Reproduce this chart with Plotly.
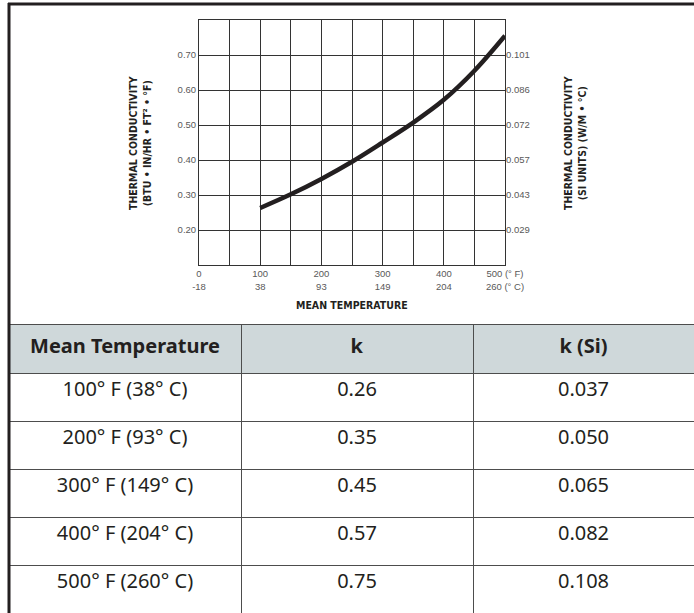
import plotly.graph_objects as go

# ---- data ----
# table values
temps_f = [100, 200, 300, 400, 500]
temps_c = [38, 93, 149, 204, 260]
k_values = [0.26, 0.35, 0.45, 0.57, 0.75]
k_si_values = [0.037, 0.050, 0.065, 0.082, 0.108]

# curve every 50 °F
curve_f = [100, 150, 200, 250, 300, 350, 400, 450, 500]
curve_k = [0.263, 0.302, 0.346, 0.395, 0.450, 0.507, 0.572, 0.655, 0.755]

x_tick_f = [0, 50, 100, 150, 200, 250, 300, 350, 400, 450, 500]
x_tick_labels = ["0<br>-18", "", "100<br>38", "", "200<br>93", "", "300<br>149", "",
                 "400<br>204", "", "500 (° F)<br>260 (° C)"]
y_ticks = [0.10, 0.20, 0.30, 0.40, 0.50, 0.60, 0.70, 0.80]
y_tick_labels = ["", "0.20", "0.30", "0.40", "0.50", "0.60", "0.70", ""]
y2_tick_labels = ["", "0.029", "0.043", "0.057", "0.072", "0.086", "0.101", ""]

W, H = 694, 613
DARK = "#231f20"
GRID = "#333333"

fig = go.Figure()

fig.add_trace(go.Scatter(
    x=curve_f, y=curve_k, mode="lines",
    line=dict(color=DARK, width=4.5, shape="spline", smoothing=1.0),
    xaxis="x", yaxis="y", showlegend=False, hoverinfo="skip"))

# invisible trace to anchor right axis
fig.add_trace(go.Scatter(
    x=temps_f, y=k_values, mode="lines", line=dict(width=0), opacity=0,
    xaxis="x", yaxis="y2", showlegend=False, hoverinfo="skip"))

header_vals = ["<b>Mean Temperature</b>", "<b>k</b>", "<b>k (Si)</b>"]
col_temp = [f"{f}° F ({c}° C)" for f, c in zip(temps_f, temps_c)]
col_k = [f"{v:.2f}" for v in k_values]
col_ksi = [f"{v:.3f}" for v in k_si_values]

fig.add_trace(go.Table(
    domain=dict(x=[9 / W, 1.0], y=[0, 1 - 324 / H]),
    columnwidth=[232, 232, 221],
    header=dict(values=header_vals, fill_color="#cfd8da",
                line=dict(color="#4d4d4d", width=1),
                font=dict(family="Noto Sans", size=20, color=DARK),
                align="center", height=49),
    cells=dict(values=[col_temp, col_k, col_ksi], fill_color="white",
               line=dict(color="#4d4d4d", width=1),
               font=dict(family="Noto Sans", size=20, color=DARK),
               align="center", height=48)))

tick_font = dict(family="Liberation Sans", size=9.5, color="#595959")

fig.update_layout(
    width=W, height=H,
    margin=dict(l=0, r=0, t=0, b=0, autoexpand=False),
    paper_bgcolor="white", plot_bgcolor="white",
    xaxis=dict(domain=[199 / W, 505 / W], range=[0, 500], tickvals=x_tick_f,
               ticktext=x_tick_labels, showgrid=True, gridcolor=GRID, gridwidth=1,
               showline=True, linecolor=GRID, linewidth=1, mirror=True,
               zeroline=False, ticks="", tickfont=tick_font, fixedrange=True,
               automargin=False),
    yaxis=dict(domain=[1 - 265 / H, 1 - 20 / H], range=[0.10, 0.80], tickvals=y_ticks,
               ticktext=y_tick_labels, showgrid=True, gridcolor=GRID, gridwidth=1,
               showline=True, linecolor=GRID, linewidth=1, mirror=True,
               zeroline=False, ticks="", tickfont=tick_font, fixedrange=True,
               automargin=False),
    yaxis2=dict(overlaying="y", side="right", range=[0.10, 0.80], tickvals=y_ticks,
                ticktext=y2_tick_labels, showgrid=False, zeroline=False,
                showline=False, ticks="", tickfont=tick_font, fixedrange=True,
                automargin=False),
    annotations=[
        dict(text="<b>THERMAL CONDUCTIVITY<br>(BTU • IN/HR • FT² • °F)</b>",
             xref="paper", yref="paper", x=140 / W, y=1 - 143 / H,
             xanchor="center", yanchor="middle", textangle=-90, showarrow=False,
             font=dict(family="DejaVu Sans Condensed", size=10.5, color=DARK)),
        dict(text="<b>THERMAL CONDUCTIVITY<br>(SI UNITS) (W/M • °C)</b>",
             xref="paper", yref="paper", x=575 / W, y=1 - 143 / H,
             xanchor="center", yanchor="middle", textangle=-90, showarrow=False,
             font=dict(family="DejaVu Sans Condensed", size=10.5, color=DARK)),
        dict(text="<b>MEAN TEMPERATURE</b>",
             xref="paper", yref="paper", x=352 / W, y=1 - 305 / H,
             xanchor="center", yanchor="middle", showarrow=False,
             font=dict(family="DejaVu Sans Condensed", size=10.5, color=DARK)),
    ],
    shapes=[
        dict(type="line", xref="paper", yref="paper", x0=9 / W, x1=9 / W,
             y0=0, y1=1 - 3 / H, line=dict(color=DARK, width=3)),
        dict(type="line", xref="paper", yref="paper", x0=8 / W, x1=1,
             y0=1 - 4 / H, y1=1 - 4 / H, line=dict(color=DARK, width=3)),
    ],
)

fig.write_html(
    "out.html",
    config={"displayModeBar": False},
    post_script="document.body.style.margin='0';document.body.style.overflow='hidden';",
)
